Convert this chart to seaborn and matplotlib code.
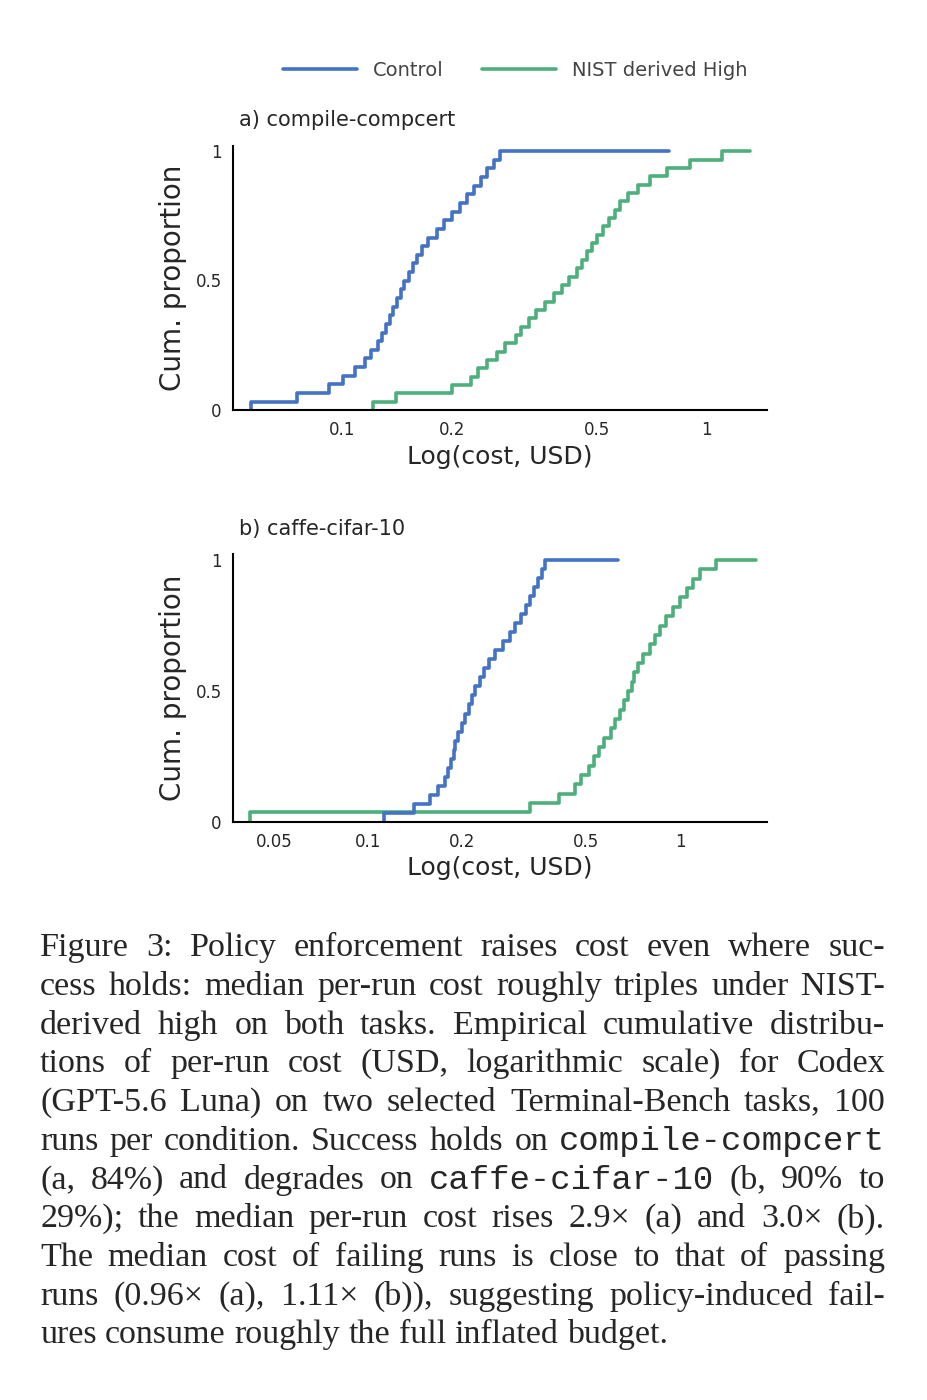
import seaborn as sns
import pandas as pd
import matplotlib.pyplot as plt
from matplotlib.ticker import FixedLocator, NullLocator

# per-run cost samples (USD)
ctrl_a = [0.056, 0.075, 0.092, 0.10, 0.108, 0.115, 0.12, 0.125, 0.128, 0.132,
          0.135, 0.138, 0.141, 0.145, 0.148, 0.152, 0.156, 0.16, 0.165, 0.172,
          0.182, 0.19, 0.20, 0.21, 0.22, 0.23, 0.24, 0.25, 0.26, 0.27, 0.79]
nist_a = [0.121, 0.14, 0.2, 0.225, 0.235, 0.25, 0.265, 0.28, 0.3, 0.31, 0.325,
          0.34, 0.36, 0.38, 0.4, 0.42, 0.44, 0.455, 0.47, 0.485, 0.5, 0.52,
          0.54, 0.56, 0.58, 0.61, 0.65, 0.7, 0.78, 0.9, 1.1, 1.32]
ctrl_b = [0.113, 0.14, 0.158, 0.168, 0.176, 0.18, 0.184, 0.188, 0.19, 0.195,
          0.2, 0.205, 0.21, 0.215, 0.22, 0.228, 0.235, 0.245, 0.255, 0.27,
          0.285, 0.296, 0.31, 0.32, 0.33, 0.34, 0.35, 0.36, 0.37, 0.63]
nist_b = [0.042, 0.33, 0.41, 0.46, 0.48, 0.51, 0.53, 0.55, 0.57, 0.6, 0.62,
          0.64, 0.66, 0.68, 0.7, 0.71, 0.73, 0.76, 0.8, 0.83, 0.86, 0.9,
          0.95, 1.0, 1.05, 1.1, 1.16, 1.3, 1.75]
# the largest run in each series is a single outlier run
outlier_weight = 0.05

panels = [
    ("a) compile-compcert", ctrl_a, nist_a, (0.05, 1.47), [0.1, 0.2, 0.5, 1], ["0.1", "0.2", "0.5", "1"]),
    ("b) caffe-cifar-10", ctrl_b, nist_b, (0.037, 1.9), [0.05, 0.1, 0.2, 0.5, 1], ["0.05", "0.1", "0.2", "0.5", "1"]),
]
labels = ["Control", "NIST derived High"]
colors = ["#4472C4", "#4DAF7C"]

sns.set_theme(style="white")
plt.rcParams['font.family'] = ['DejaVu Sans']

fig = plt.figure(figsize=(9.28, 14), dpi=100)
boxes = [[0.251, 0.707, 0.576, 0.189], [0.251, 0.413, 0.576, 0.191]]

for box, (title, c, n, xlim, ticks, ticklabels) in zip(boxes, panels):
    ax = fig.add_axes(box)
    w = [1] * (len(c) - 1) + [outlier_weight] + [1] * (len(n) - 1) + [outlier_weight]
    df = pd.DataFrame({"cost": c + n, "w": w,
                       "cond": [labels[0]] * len(c) + [labels[1]] * len(n)})
    sns.ecdfplot(data=df, x="cost", hue="cond", weights="w", palette=colors,
                 log_scale=True, linewidth=2.6, ax=ax, legend=False)
    ax.set_xlim(*xlim)
    ax.set_ylim(0, 1.02)
    ax.xaxis.set_major_locator(FixedLocator(ticks))
    ax.xaxis.set_minor_locator(NullLocator())
    ax.set_xticklabels(ticklabels, fontsize=12)
    ax.set_yticks([0, 0.5, 1])
    ax.set_yticklabels(["0", "0.5", "1"], fontsize=12)
    ax.tick_params(length=0, pad=8)
    sns.despine(ax=ax)
    for s in ["left", "bottom"]:
        ax.spines[s].set_color("black")
        ax.spines[s].set_linewidth(1.5)
    ax.set_xlabel("Log(cost, USD)", fontsize=18, labelpad=4)
    ax.set_ylabel("Cum. proportion", fontsize=20, labelpad=6)
    ax.set_title(title, fontsize=15, loc="left", pad=14, x=0.012)

handles = [plt.Line2D([], [], color=col, lw=2.6) for col in colors]
fig.legend(handles, labels, loc="center", bbox_to_anchor=(0.555, 0.950), ncol=2,
           frameon=False, fontsize=14, handlelength=3.8, columnspacing=2,
           labelcolor="#444444")

# caption, justified word by word
serif = "Liberation Serif"
mono = "Liberation Mono"
fs = 24.5
lines = [
    [("Figure 3: Policy enforcement raises cost even where suc-", serif)],
    [("cess holds: median per-run cost roughly triples under NIST-", serif)],
    [("derived high on both tasks. Empirical cumulative distribu-", serif)],
    [("tions of per-run cost (USD, logarithmic scale) for Codex", serif)],
    [("(GPT-5.6 Luna) on two selected Terminal-Bench tasks, 100", serif)],
    [("runs per condition. Success holds on", serif), ("compile-compcert", mono)],
    [("(a, 84%) and degrades on", serif), ("caffe-cifar-10", mono), ("(b, 90% to", serif)],
    [("29%); the median per-run cost rises 2.9\u00d7 (a) and 3.0\u00d7 (b).", serif)],
    [("The median cost of failing runs is close to that of passing", serif)],
    [("runs (0.96\u00d7 (a), 1.11\u00d7 (b)), suggesting policy-induced fail-", serif)],
    [("ures consume roughly the full inflated budget.", serif)],
]
fig.canvas.draw()
r = fig.canvas.get_renderer()
left, right = 40, 885
y0 = 1 - 948 / 1400
dy = 38.7 / 1400
for i, segs in enumerate(lines):
    words = [(wd, fam) for txt, fam in segs for wd in txt.split(" ")]
    arts = [fig.text(0, y0 - i * dy, wd, fontsize=fs, family=fam, va="center", ha="left")
            for wd, fam in words]
    widths = [a.get_window_extent(r).width for a in arts]
    if i == len(lines) - 1:
        gap = fs * 0.25 * 100 / 72
    else:
        gap = (right - left - sum(widths)) / (len(arts) - 1)
    x = left
    for a, wdt in zip(arts, widths):
        a.set_x(x / 928)
        x += wdt + gap

fig.savefig("out.png", dpi=100)
